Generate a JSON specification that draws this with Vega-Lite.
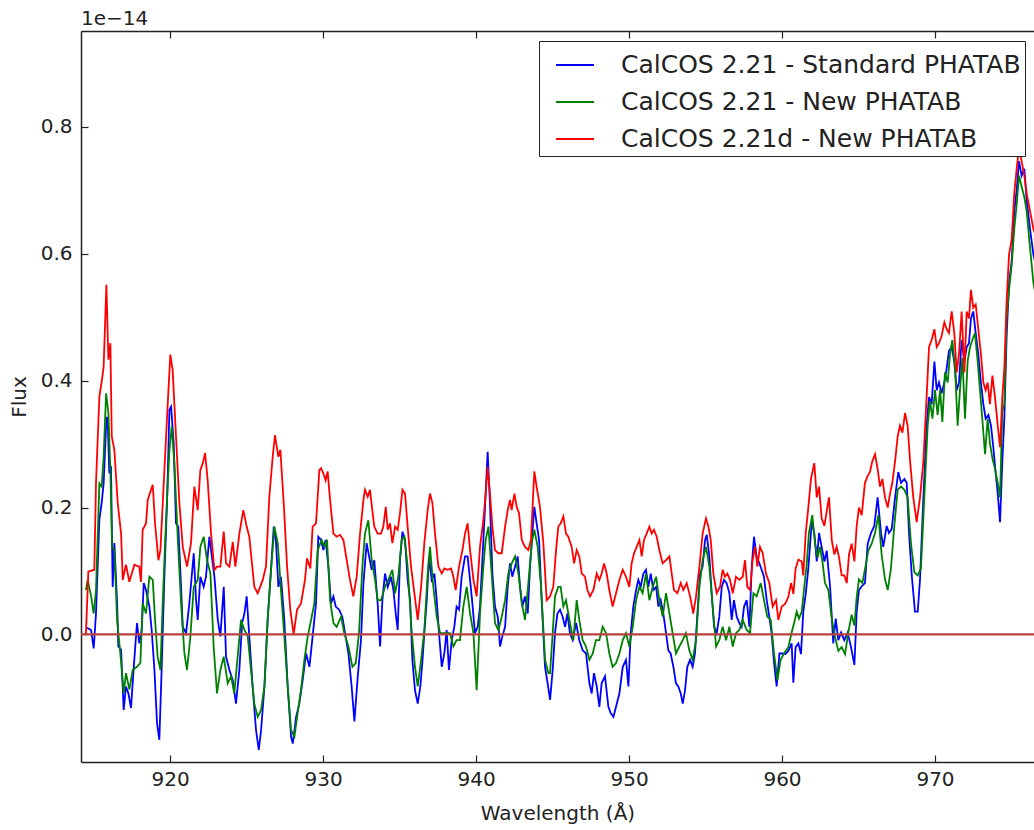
{
  "$schema": "https://vega.github.io/schema/vega-lite/v6.json",
  "width": 953,
  "height": 731,
  "autosize": {"type": "none"},
  "padding": {"left": 81, "top": 31, "right": 0, "bottom": 68},
  "background": "white",
  "config": {
    "font": "DejaVu Sans",
    "view": {"stroke": null},
    "axis": {"grid": false, "domainColor": "#222", "domainWidth": 1.5, "tickColor": "#222", "tickWidth": 1.2, "labelColor": "#222", "titleColor": "#222", "labelFont": "DejaVu Sans", "titleFont": "DejaVu Sans", "labelFontSize": 20, "titleFontSize": 20, "titleFontWeight": "normal"}
  },
  "title": {"text": "1e\u221214", "anchor": "start", "frame": "group", "fontSize": 20, "fontWeight": "normal", "font": "DejaVu Sans", "color": "#222", "baseline": "bottom", "offset": 2, "dy": 21},
  "datasets": {
    "blue": [
      {"w":914.50,"f":0.01},{"w":914.62,"f":0.010},{"w":914.84,"f":0.007},{"w":915.01,"f":-0.022},{"w":915.16,"f":0.033},{"w":915.38,"f":0.181},{"w":915.53,"f":0.207},{"w":915.66,"f":0.238},{"w":915.82,"f":0.328},{"w":915.88,"f":0.343},{"w":915.93,"f":0.333},{"w":916.03,"f":0.254},{"w":916.14,"f":0.265},{"w":916.25,"f":0.075},{"w":916.36,"f":0.144},{"w":916.54,"f":0.049},{"w":916.62,"f":-0.019},{"w":916.80,"f":-0.024},{"w":916.97,"f":-0.119},{"w":917.12,"f":-0.082},{"w":917.28,"f":-0.093},{"w":917.45,"f":-0.116},{"w":917.63,"f":-0.051},{"w":917.84,"f":0.018},{"w":917.99,"f":-0.014},{"w":918.15,"f":0.007},{"w":918.28,"f":0.081},{"w":918.43,"f":0.070},{"w":918.65,"f":0.044},{"w":918.80,"f":0.007},{"w":918.98,"f":-0.056},{"w":919.15,"f":-0.140},{"w":919.30,"f":-0.166},{"w":919.45,"f":-0.056},{"w":919.63,"f":0.091},{"w":919.80,"f":0.207},{"w":919.96,"f":0.354},{"w":920.07,"f":0.359},{"w":920.24,"f":0.301},{"w":920.39,"f":0.175},{"w":920.54,"f":0.170},{"w":920.72,"f":0.075},{"w":920.83,"f":0.012},{"w":921.05,"f":0.002},{"w":921.26,"f":0.049},{"w":921.55,"f":0.128},{"w":921.70,"f":0.054},{"w":921.81,"f":0.023},{"w":921.98,"f":0.091},{"w":922.20,"f":0.075},{"w":922.35,"f":0.091},{"w":922.57,"f":0.154},{"w":922.79,"f":0.112},{"w":922.90,"f":0.091},{"w":923.12,"f":0.023},{"w":923.29,"f":-0.003},{"w":923.51,"f":0.075},{"w":923.66,"f":-0.035},{"w":923.88,"f":-0.056},{"w":924.10,"f":-0.072},{"w":924.31,"f":-0.109},{"w":924.53,"f":-0.056},{"w":924.71,"f":0.018},{"w":924.86,"f":0.033},{"w":925.01,"f":0.060},{"w":925.18,"f":-0.003},{"w":925.40,"f":-0.082},{"w":925.62,"f":-0.151},{"w":925.80,"f":-0.182},{"w":925.95,"f":-0.151},{"w":926.17,"f":-0.082},{"w":926.38,"f":0.023},{"w":926.60,"f":0.102},{"w":926.78,"f":0.170},{"w":926.93,"f":0.144},{"w":927.08,"f":0.075},{"w":927.25,"f":0.091},{"w":927.47,"f":0.023},{"w":927.69,"f":-0.082},{"w":927.91,"f":-0.161},{"w":928.02,"f":-0.172},{"w":928.24,"f":-0.130},{"w":928.45,"f":-0.109},{"w":928.67,"f":-0.072},{"w":928.89,"f":-0.030},{"w":929.11,"f":-0.051},{"w":929.32,"f":-0.003},{"w":929.54,"f":0.049},{"w":929.69,"f":0.154},{"w":929.87,"f":0.149},{"w":930.02,"f":0.133},{"w":930.17,"f":0.149},{"w":930.35,"f":0.107},{"w":930.52,"f":0.049},{"w":930.68,"f":0.060},{"w":930.83,"f":0.044},{"w":931.05,"f":0.039},{"w":931.26,"f":0.028},{"w":931.44,"f":0.002},{"w":931.66,"f":-0.030},{"w":931.87,"f":-0.082},{"w":932.05,"f":-0.137},{"w":932.27,"f":-0.066},{"w":932.48,"f":-0.009},{"w":932.64,"f":0.081},{"w":932.85,"f":0.144},{"w":933.01,"f":0.123},{"w":933.18,"f":0.102},{"w":933.35,"f":0.117},{"w":933.57,"f":0.049},{"w":933.73,"f":-0.019},{"w":933.88,"f":0.054},{"w":934.05,"f":0.096},{"w":934.23,"f":0.075},{"w":934.44,"f":0.091},{"w":934.60,"f":0.070},{"w":934.75,"f":0.033},{"w":934.88,"f":0.007},{"w":935.03,"f":0.117},{"w":935.19,"f":0.162},{"w":935.36,"f":0.149},{"w":935.53,"f":0.086},{"w":935.69,"f":0.054},{"w":935.84,"f":-0.040},{"w":936.01,"f":-0.088},{"w":936.19,"f":-0.109},{"w":936.36,"f":-0.082},{"w":936.49,"f":-0.045},{"w":936.62,"f":0.002},{"w":936.78,"f":0.054},{"w":936.93,"f":0.123},{"w":937.10,"f":0.086},{"w":937.28,"f":0.096},{"w":937.43,"f":0.054},{"w":937.58,"f":0.002},{"w":937.76,"f":-0.051},{"w":937.93,"f":-0.030},{"w":938.08,"f":0.007},{"w":938.23,"f":-0.056},{"w":938.41,"f":-0.009},{"w":938.58,"f":0.012},{"w":938.73,"f":0.044},{"w":938.89,"f":0.039},{"w":939.06,"f":0.091},{"w":939.28,"f":0.123},{"w":939.45,"f":0.123},{"w":939.61,"f":0.086},{"w":939.76,"f":0.049},{"w":939.93,"f":0.002},{"w":940.11,"f":0.012},{"w":940.26,"f":0.044},{"w":940.48,"f":0.149},{"w":940.63,"f":0.222},{"w":940.76,"f":0.288},{"w":940.91,"f":0.207},{"w":941.07,"f":0.096},{"w":941.24,"f":0.044},{"w":941.42,"f":0.028},{"w":941.57,"f":-0.019},{"w":941.72,"f":-0.003},{"w":941.90,"f":0.012},{"w":942.07,"f":0.075},{"w":942.22,"f":0.112},{"w":942.37,"f":0.091},{"w":942.55,"f":0.107},{"w":942.72,"f":0.123},{"w":942.88,"f":0.075},{"w":943.03,"f":0.044},{"w":943.20,"f":0.060},{"w":943.38,"f":0.033},{"w":943.53,"f":0.107},{"w":943.68,"f":0.159},{"w":943.81,"f":0.201},{"w":943.96,"f":0.175},{"w":944.12,"f":0.149},{"w":944.29,"f":0.054},{"w":944.51,"f":-0.051},{"w":944.68,"f":-0.077},{"w":944.84,"f":-0.103},{"w":945.01,"f":-0.056},{"w":945.16,"f":0.002},{"w":945.32,"f":0.033},{"w":945.49,"f":0.039},{"w":945.66,"f":0.028},{"w":945.82,"f":0.012},{"w":945.97,"f":0.033},{"w":946.14,"f":0.002},{"w":946.32,"f":-0.009},{"w":946.54,"f":0.018},{"w":946.75,"f":-0.009},{"w":946.97,"f":-0.025},{"w":947.19,"f":-0.030},{"w":947.41,"f":-0.077},{"w":947.56,"f":-0.093},{"w":947.71,"f":-0.061},{"w":947.89,"f":-0.082},{"w":948.06,"f":-0.114},{"w":948.21,"f":-0.077},{"w":948.43,"f":-0.066},{"w":948.65,"f":-0.114},{"w":948.80,"f":-0.124},{"w":948.98,"f":-0.130},{"w":949.15,"f":-0.114},{"w":949.37,"f":-0.093},{"w":949.59,"f":-0.051},{"w":949.80,"f":-0.040},{"w":949.96,"f":-0.082},{"w":950.11,"f":0.002},{"w":950.28,"f":0.044},{"w":950.46,"f":0.070},{"w":950.61,"f":0.086},{"w":950.76,"f":0.075},{"w":950.94,"f":0.096},{"w":951.11,"f":0.102},{"w":951.26,"f":0.075},{"w":951.42,"f":0.096},{"w":951.59,"f":0.070},{"w":951.77,"f":0.075},{"w":951.92,"f":0.044},{"w":952.07,"f":0.054},{"w":952.24,"f":0.033},{"w":952.42,"f":0.002},{"w":952.57,"f":-0.025},{"w":952.72,"f":-0.030},{"w":952.90,"f":-0.051},{"w":953.07,"f":-0.077},{"w":953.22,"f":-0.082},{"w":953.38,"f":-0.093},{"w":953.51,"f":-0.109},{"w":953.66,"f":-0.088},{"w":953.81,"f":-0.051},{"w":953.99,"f":-0.040},{"w":954.16,"f":-0.051},{"w":954.31,"f":-0.030},{"w":954.47,"f":0.033},{"w":954.64,"f":0.096},{"w":954.81,"f":0.107},{"w":954.97,"f":0.149},{"w":955.08,"f":0.157},{"w":955.25,"f":0.123},{"w":955.40,"f":0.065},{"w":955.56,"f":0.012},{"w":955.73,"f":0.002},{"w":955.90,"f":0.028},{"w":956.06,"f":0.075},{"w":956.21,"f":0.086},{"w":956.38,"f":0.081},{"w":956.56,"f":0.065},{"w":956.71,"f":0.023},{"w":956.86,"f":0.054},{"w":957.04,"f":0.028},{"w":957.21,"f":0.018},{"w":957.36,"f":0.012},{"w":957.52,"f":0.044},{"w":957.69,"f":0.054},{"w":957.87,"f":0.012},{"w":958.02,"f":0.107},{"w":958.17,"f":0.154},{"w":958.34,"f":0.123},{"w":958.52,"f":0.112},{"w":958.67,"f":0.102},{"w":958.82,"f":0.091},{"w":959.00,"f":0.054},{"w":959.17,"f":0.028},{"w":959.32,"f":0.002},{"w":959.48,"f":-0.045},{"w":959.65,"f":-0.082},{"w":959.83,"f":-0.030},{"w":960.04,"f":-0.030},{"w":960.20,"f":-0.031},{"w":960.41,"f":-0.026},{"w":960.63,"f":-0.014},{"w":960.74,"f":-0.076},{"w":960.89,"f":-0.020},{"w":961.07,"f":-0.014},{"w":961.24,"f":-0.031},{"w":961.39,"f":0.036},{"w":961.55,"f":0.064},{"w":961.72,"f":0.104},{"w":961.94,"f":0.177},{"w":962.11,"f":0.160},{"w":962.27,"f":0.115},{"w":962.42,"f":0.160},{"w":962.59,"f":0.138},{"w":962.77,"f":0.115},{"w":962.92,"f":0.132},{"w":963.14,"f":0.076},{"w":963.35,"f":-0.014},{"w":963.51,"f":0.025},{"w":963.68,"f":-0.009},{"w":963.86,"f":0.003},{"w":964.07,"f":-0.009},{"w":964.29,"f":0.003},{"w":964.51,"f":-0.020},{"w":964.73,"f":-0.048},{"w":964.88,"f":0.036},{"w":965.03,"f":0.070},{"w":965.21,"f":0.076},{"w":965.42,"f":0.081},{"w":965.60,"f":0.143},{"w":965.82,"f":0.160},{"w":966.03,"f":0.171},{"w":966.25,"f":0.216},{"w":966.47,"f":0.160},{"w":966.62,"f":0.138},{"w":966.84,"f":0.171},{"w":966.99,"f":0.160},{"w":967.17,"f":0.166},{"w":967.39,"f":0.216},{"w":967.60,"f":0.256},{"w":967.78,"f":0.239},{"w":968.00,"f":0.245},{"w":968.15,"f":0.239},{"w":968.30,"f":0.160},{"w":968.48,"f":0.093},{"w":968.69,"f":0.036},{"w":968.87,"f":0.036},{"w":969.02,"f":0.087},{"w":969.24,"f":0.216},{"w":969.45,"f":0.329},{"w":969.61,"f":0.374},{"w":969.78,"f":0.363},{"w":969.96,"f":0.430},{"w":970.11,"f":0.385},{"w":970.26,"f":0.397},{"w":970.43,"f":0.380},{"w":970.61,"f":0.397},{"w":970.76,"f":0.419},{"w":970.91,"f":0.447},{"w":971.09,"f":0.453},{"w":971.26,"f":0.430},{"w":971.42,"f":0.385},{"w":971.57,"f":0.397},{"w":971.74,"f":0.464},{"w":971.92,"f":0.430},{"w":972.07,"f":0.453},{"w":972.22,"f":0.459},{"w":972.35,"f":0.498},{"w":972.50,"f":0.509},{"w":972.66,"f":0.475},{"w":972.83,"f":0.442},{"w":973.00,"f":0.397},{"w":973.16,"f":0.363},{"w":973.31,"f":0.340},{"w":973.49,"f":0.346},{"w":973.66,"f":0.329},{"w":973.81,"f":0.295},{"w":973.96,"f":0.256},{"w":974.10,"f":0.222},{"w":974.25,"f":0.177},{"w":974.40,"f":0.273},{"w":974.53,"f":0.340},{"w":974.68,"f":0.470},{"w":974.84,"f":0.554},{"w":975.01,"f":0.588},{"w":975.18,"f":0.667},{"w":975.34,"f":0.701},{"w":975.49,"f":0.746},{"w":975.66,"f":0.723},{"w":975.84,"f":0.734},{"w":975.99,"f":0.684},{"w":976.21,"f":0.639},{"w":976.43,"f":0.599},{"w":976.70,"f":0.570}
    ],
    "green": [
      {"w":914.50,"f":0.07},{"w":914.62,"f":0.086},{"w":914.84,"f":0.060},{"w":915.01,"f":0.033},{"w":915.16,"f":0.070},{"w":915.38,"f":0.238},{"w":915.53,"f":0.233},{"w":915.66,"f":0.280},{"w":915.82,"f":0.380},{"w":915.97,"f":0.349},{"w":916.10,"f":0.259},{"w":916.21,"f":0.138},{"w":916.36,"f":0.133},{"w":916.54,"f":0.023},{"w":916.75,"f":-0.030},{"w":916.97,"f":-0.093},{"w":917.12,"f":-0.061},{"w":917.34,"f":-0.087},{"w":917.56,"f":-0.056},{"w":917.84,"f":-0.051},{"w":918.06,"f":-0.045},{"w":918.21,"f":0.049},{"w":918.43,"f":0.033},{"w":918.65,"f":0.091},{"w":918.87,"f":0.086},{"w":919.02,"f":0.023},{"w":919.19,"f":-0.035},{"w":919.37,"f":-0.056},{"w":919.52,"f":0.049},{"w":919.74,"f":0.181},{"w":919.96,"f":0.291},{"w":920.11,"f":0.328},{"w":920.28,"f":0.270},{"w":920.50,"f":0.154},{"w":920.72,"f":0.049},{"w":920.94,"f":-0.030},{"w":921.11,"f":-0.056},{"w":921.33,"f":-0.003},{"w":921.55,"f":0.075},{"w":921.81,"f":0.086},{"w":921.98,"f":0.138},{"w":922.20,"f":0.154},{"w":922.42,"f":0.117},{"w":922.64,"f":0.096},{"w":922.85,"f":-0.019},{"w":923.07,"f":-0.093},{"w":923.29,"f":-0.056},{"w":923.51,"f":-0.035},{"w":923.77,"f":-0.077},{"w":923.99,"f":-0.066},{"w":924.20,"f":-0.093},{"w":924.42,"f":-0.035},{"w":924.64,"f":0.023},{"w":924.86,"f":0.007},{"w":925.08,"f":-0.003},{"w":925.29,"f":-0.056},{"w":925.51,"f":-0.109},{"w":925.73,"f":-0.130},{"w":925.95,"f":-0.119},{"w":926.17,"f":-0.082},{"w":926.38,"f":0.023},{"w":926.60,"f":0.102},{"w":926.82,"f":0.170},{"w":927.04,"f":0.144},{"w":927.25,"f":0.070},{"w":927.47,"f":-0.003},{"w":927.69,"f":-0.082},{"w":927.91,"f":-0.151},{"w":928.13,"f":-0.161},{"w":928.34,"f":-0.124},{"w":928.56,"f":-0.087},{"w":928.78,"f":-0.040},{"w":929.00,"f":-0.003},{"w":929.22,"f":0.023},{"w":929.43,"f":0.049},{"w":929.65,"f":0.133},{"w":929.91,"f":0.149},{"w":930.09,"f":0.138},{"w":930.26,"f":0.149},{"w":930.46,"f":0.054},{"w":930.68,"f":0.018},{"w":930.89,"f":0.012},{"w":931.18,"f":0.028},{"w":931.39,"f":0.002},{"w":931.66,"f":-0.019},{"w":931.92,"f":-0.051},{"w":932.14,"f":-0.045},{"w":932.35,"f":0.002},{"w":932.57,"f":0.107},{"w":932.74,"f":0.159},{"w":932.96,"f":0.180},{"w":933.18,"f":0.117},{"w":933.40,"f":0.086},{"w":933.57,"f":0.054},{"w":933.79,"f":0.054},{"w":934.05,"f":0.075},{"w":934.27,"f":0.086},{"w":934.53,"f":0.102},{"w":934.71,"f":0.065},{"w":934.92,"f":0.091},{"w":935.14,"f":0.149},{"w":935.32,"f":0.154},{"w":935.53,"f":0.107},{"w":935.80,"f":0.002},{"w":936.01,"f":-0.051},{"w":936.19,"f":-0.082},{"w":936.41,"f":-0.040},{"w":936.62,"f":0.007},{"w":936.84,"f":0.096},{"w":936.99,"f":0.138},{"w":937.21,"f":0.075},{"w":937.43,"f":0.028},{"w":937.65,"f":0.002},{"w":937.86,"f":0.002},{"w":938.08,"f":0.002},{"w":938.30,"f":0.002},{"w":938.52,"f":-0.019},{"w":938.73,"f":-0.009},{"w":938.95,"f":-0.009},{"w":939.17,"f":0.044},{"w":939.39,"f":0.075},{"w":939.61,"f":0.033},{"w":939.83,"f":0.002},{"w":940.04,"f":-0.088},{"w":940.26,"f":0.033},{"w":940.48,"f":0.107},{"w":940.63,"f":0.149},{"w":940.81,"f":0.170},{"w":941.02,"f":0.096},{"w":941.24,"f":0.018},{"w":941.46,"f":0.007},{"w":941.68,"f":0.028},{"w":941.90,"f":0.054},{"w":942.11,"f":0.096},{"w":942.33,"f":0.112},{"w":942.55,"f":0.123},{"w":942.77,"f":0.096},{"w":942.99,"f":0.049},{"w":943.20,"f":0.023},{"w":943.42,"f":0.081},{"w":943.64,"f":0.144},{"w":943.81,"f":0.165},{"w":944.03,"f":0.138},{"w":944.25,"f":0.075},{"w":944.51,"f":-0.040},{"w":944.73,"f":-0.061},{"w":944.84,"f":-0.061},{"w":945.01,"f":0.002},{"w":945.16,"f":0.060},{"w":945.38,"f":0.075},{"w":945.53,"f":0.075},{"w":945.71,"f":0.044},{"w":945.88,"f":0.054},{"w":946.03,"f":0.033},{"w":946.19,"f":0.012},{"w":946.36,"f":-0.009},{"w":946.58,"f":0.054},{"w":946.75,"f":0.023},{"w":946.97,"f":-0.009},{"w":947.19,"f":-0.019},{"w":947.41,"f":-0.040},{"w":947.63,"f":-0.030},{"w":947.84,"f":-0.009},{"w":948.06,"f":-0.009},{"w":948.28,"f":0.012},{"w":948.50,"f":0.002},{"w":948.71,"f":-0.030},{"w":948.93,"f":-0.051},{"w":949.15,"f":-0.045},{"w":949.37,"f":-0.030},{"w":949.59,"f":-0.009},{"w":949.80,"f":0.002},{"w":950.02,"f":-0.019},{"w":950.24,"f":0.012},{"w":950.46,"f":0.054},{"w":950.68,"f":0.075},{"w":950.89,"f":0.065},{"w":951.11,"f":0.096},{"w":951.33,"f":0.054},{"w":951.55,"f":0.075},{"w":951.77,"f":0.091},{"w":951.98,"f":0.054},{"w":952.20,"f":0.028},{"w":952.42,"f":0.065},{"w":952.64,"f":0.033},{"w":952.85,"f":0.002},{"w":953.07,"f":-0.030},{"w":953.29,"f":-0.019},{"w":953.51,"f":-0.009},{"w":953.72,"f":0.002},{"w":953.94,"f":-0.025},{"w":954.16,"f":-0.040},{"w":954.38,"f":-0.009},{"w":954.60,"f":0.075},{"w":954.81,"f":0.117},{"w":955.03,"f":0.138},{"w":955.25,"f":0.107},{"w":955.47,"f":0.044},{"w":955.69,"f":-0.019},{"w":955.90,"f":-0.009},{"w":956.12,"f":0.012},{"w":956.34,"f":-0.009},{"w":956.56,"f":0.012},{"w":956.78,"f":-0.019},{"w":956.99,"f":0.002},{"w":957.21,"f":0.007},{"w":957.43,"f":0.023},{"w":957.69,"f":0.007},{"w":957.91,"f":0.002},{"w":958.13,"f":0.065},{"w":958.34,"f":0.060},{"w":958.61,"f":0.081},{"w":958.82,"f":0.054},{"w":959.04,"f":0.028},{"w":959.26,"f":0.023},{"w":959.48,"f":-0.030},{"w":959.70,"f":-0.072},{"w":959.91,"f":-0.040},{"w":960.13,"f":-0.030},{"w":960.41,"f":-0.020},{"w":960.63,"f":0.003},{"w":960.81,"f":0.020},{"w":960.96,"f":0.036},{"w":961.11,"f":0.025},{"w":961.29,"f":0.036},{"w":961.46,"f":0.076},{"w":961.61,"f":0.109},{"w":961.76,"f":0.160},{"w":961.98,"f":0.188},{"w":962.16,"f":0.143},{"w":962.33,"f":0.121},{"w":962.48,"f":0.138},{"w":962.64,"f":0.115},{"w":962.81,"f":0.081},{"w":963.03,"f":0.070},{"w":963.25,"f":0.025},{"w":963.46,"f":-0.003},{"w":963.68,"f":-0.026},{"w":963.90,"f":-0.020},{"w":964.12,"f":-0.031},{"w":964.33,"f":0.003},{"w":964.55,"f":0.031},{"w":964.73,"f":0.014},{"w":964.88,"f":0.059},{"w":965.03,"f":0.087},{"w":965.25,"f":0.081},{"w":965.47,"f":0.109},{"w":965.64,"f":0.132},{"w":965.86,"f":0.143},{"w":966.08,"f":0.160},{"w":966.30,"f":0.188},{"w":966.51,"f":0.126},{"w":966.73,"f":0.087},{"w":966.91,"f":0.070},{"w":967.12,"f":0.104},{"w":967.34,"f":0.171},{"w":967.56,"f":0.228},{"w":967.78,"f":0.233},{"w":968.00,"f":0.228},{"w":968.21,"f":0.216},{"w":968.43,"f":0.143},{"w":968.65,"f":0.098},{"w":968.87,"f":0.093},{"w":969.08,"f":0.104},{"w":969.30,"f":0.216},{"w":969.52,"f":0.329},{"w":969.67,"f":0.368},{"w":969.83,"f":0.340},{"w":970.00,"f":0.385},{"w":970.17,"f":0.346},{"w":970.33,"f":0.385},{"w":970.48,"f":0.335},{"w":970.65,"f":0.413},{"w":970.83,"f":0.397},{"w":970.98,"f":0.442},{"w":971.13,"f":0.464},{"w":971.31,"f":0.419},{"w":971.48,"f":0.329},{"w":971.63,"f":0.385},{"w":971.79,"f":0.436},{"w":971.96,"f":0.340},{"w":972.13,"f":0.430},{"w":972.29,"f":0.453},{"w":972.44,"f":0.464},{"w":972.61,"f":0.475},{"w":972.79,"f":0.430},{"w":972.94,"f":0.385},{"w":973.09,"f":0.340},{"w":973.27,"f":0.284},{"w":973.44,"f":0.340},{"w":973.59,"f":0.301},{"w":973.75,"f":0.278},{"w":973.92,"f":0.261},{"w":974.10,"f":0.239},{"w":974.25,"f":0.216},{"w":974.40,"f":0.352},{"w":974.53,"f":0.363},{"w":974.68,"f":0.498},{"w":974.84,"f":0.543},{"w":975.01,"f":0.582},{"w":975.18,"f":0.639},{"w":975.34,"f":0.678},{"w":975.49,"f":0.723},{"w":975.66,"f":0.706},{"w":975.84,"f":0.689},{"w":975.99,"f":0.667},{"w":976.21,"f":0.610},{"w":976.43,"f":0.554},{"w":976.70,"f":0.520}
    ],
    "red": [
      {"w":914.50,"f":0.0},{"w":914.66,"f":0.099},{"w":915.05,"f":0.102},{"w":915.16,"f":0.238},{"w":915.38,"f":0.375},{"w":915.53,"f":0.398},{"w":915.66,"f":0.422},{"w":915.84,"f":0.551},{"w":915.97,"f":0.433},{"w":916.10,"f":0.459},{"w":916.19,"f":0.312},{"w":916.36,"f":0.291},{"w":916.58,"f":0.207},{"w":916.80,"f":0.159},{"w":916.91,"f":0.086},{"w":917.12,"f":0.110},{"w":917.34,"f":0.083},{"w":917.67,"f":0.110},{"w":917.99,"f":0.107},{"w":918.10,"f":0.083},{"w":918.21,"f":0.165},{"w":918.43,"f":0.175},{"w":918.54,"f":0.212},{"w":918.76,"f":0.228},{"w":918.87,"f":0.236},{"w":919.02,"f":0.175},{"w":919.24,"f":0.117},{"w":919.37,"f":0.133},{"w":919.63,"f":0.259},{"w":919.85,"f":0.364},{"w":920.02,"f":0.441},{"w":920.17,"f":0.417},{"w":920.39,"f":0.312},{"w":920.61,"f":0.207},{"w":920.83,"f":0.138},{"w":921.11,"f":0.107},{"w":921.37,"f":0.144},{"w":921.59,"f":0.233},{"w":921.81,"f":0.196},{"w":921.98,"f":0.259},{"w":922.14,"f":0.270},{"w":922.29,"f":0.286},{"w":922.46,"f":0.243},{"w":922.68,"f":0.159},{"w":922.90,"f":0.102},{"w":923.07,"f":0.107},{"w":923.29,"f":0.107},{"w":923.51,"f":0.162},{"w":923.66,"f":0.112},{"w":923.88,"f":0.107},{"w":924.10,"f":0.146},{"w":924.27,"f":0.107},{"w":924.53,"f":0.159},{"w":924.79,"f":0.196},{"w":925.01,"f":0.170},{"w":925.18,"f":0.154},{"w":925.51,"f":0.075},{"w":925.73,"f":0.065},{"w":926.06,"f":0.086},{"w":926.27,"f":0.107},{"w":926.49,"f":0.217},{"w":926.71,"f":0.280},{"w":926.86,"f":0.314},{"w":927.08,"f":0.280},{"w":927.21,"f":0.291},{"w":927.43,"f":0.207},{"w":927.65,"f":0.107},{"w":927.86,"f":0.039},{"w":928.08,"f":0.0},{"w":928.30,"f":0.039},{"w":928.56,"f":0.049},{"w":928.82,"f":0.086},{"w":928.95,"f":0.120},{"w":929.17,"f":0.104},{"w":929.32,"f":0.170},{"w":929.54,"f":0.175},{"w":929.76,"f":0.259},{"w":929.87,"f":0.262},{"w":930.02,"f":0.254},{"w":930.17,"f":0.243},{"w":930.30,"f":0.257},{"w":930.46,"f":0.212},{"w":930.68,"f":0.159},{"w":930.89,"f":0.154},{"w":931.11,"f":0.157},{"w":931.33,"f":0.149},{"w":931.55,"f":0.117},{"w":931.76,"f":0.086},{"w":931.98,"f":0.060},{"w":932.20,"f":0.091},{"w":932.42,"f":0.159},{"w":932.64,"f":0.212},{"w":932.74,"f":0.228},{"w":932.92,"f":0.217},{"w":933.07,"f":0.228},{"w":933.22,"f":0.196},{"w":933.35,"f":0.170},{"w":933.57,"f":0.159},{"w":933.79,"f":0.159},{"w":933.94,"f":0.170},{"w":934.10,"f":0.201},{"w":934.23,"f":0.165},{"w":934.38,"f":0.175},{"w":934.53,"f":0.144},{"w":934.71,"f":0.170},{"w":934.88,"f":0.165},{"w":935.03,"f":0.191},{"w":935.19,"f":0.228},{"w":935.36,"f":0.222},{"w":935.53,"f":0.170},{"w":935.75,"f":0.107},{"w":935.97,"f":0.065},{"w":936.19,"f":0.023},{"w":936.41,"f":0.075},{"w":936.62,"f":0.144},{"w":936.84,"f":0.196},{"w":936.99,"f":0.222},{"w":937.15,"f":0.207},{"w":937.32,"f":0.159},{"w":937.54,"f":0.107},{"w":937.76,"f":0.096},{"w":937.93,"f":0.104},{"w":938.15,"f":0.102},{"w":938.37,"f":0.104},{"w":938.52,"f":0.091},{"w":938.67,"f":0.070},{"w":938.89,"f":0.107},{"w":939.11,"f":0.133},{"w":939.28,"f":0.159},{"w":939.45,"f":0.175},{"w":939.61,"f":0.133},{"w":939.83,"f":0.086},{"w":940.04,"f":0.060},{"w":940.26,"f":0.138},{"w":940.48,"f":0.180},{"w":940.63,"f":0.222},{"w":940.76,"f":0.264},{"w":940.91,"f":0.222},{"w":941.07,"f":0.170},{"w":941.24,"f":0.133},{"w":941.46,"f":0.128},{"w":941.68,"f":0.128},{"w":941.90,"f":0.170},{"w":942.07,"f":0.196},{"w":942.22,"f":0.212},{"w":942.33,"f":0.196},{"w":942.51,"f":0.222},{"w":942.66,"f":0.201},{"w":942.81,"f":0.191},{"w":942.99,"f":0.149},{"w":943.20,"f":0.138},{"w":943.42,"f":0.133},{"w":943.59,"f":0.149},{"w":943.81,"f":0.257},{"w":943.96,"f":0.233},{"w":944.18,"f":0.201},{"w":944.40,"f":0.144},{"w":944.62,"f":0.054},{"w":944.84,"f":0.060},{"w":945.05,"f":0.075},{"w":945.23,"f":0.133},{"w":945.38,"f":0.170},{"w":945.53,"f":0.175},{"w":945.71,"f":0.186},{"w":945.88,"f":0.159},{"w":946.03,"f":0.154},{"w":946.25,"f":0.138},{"w":946.41,"f":0.112},{"w":946.58,"f":0.133},{"w":946.75,"f":0.123},{"w":946.91,"f":0.096},{"w":947.12,"f":0.091},{"w":947.28,"f":0.070},{"w":947.45,"f":0.060},{"w":947.67,"f":0.070},{"w":947.89,"f":0.096},{"w":948.06,"f":0.086},{"w":948.21,"f":0.096},{"w":948.37,"f":0.112},{"w":948.54,"f":0.096},{"w":948.71,"f":0.070},{"w":948.93,"f":0.044},{"w":949.15,"f":0.065},{"w":949.37,"f":0.086},{"w":949.59,"f":0.102},{"w":949.80,"f":0.091},{"w":950.02,"f":0.075},{"w":950.17,"f":0.112},{"w":950.33,"f":0.128},{"w":950.50,"f":0.138},{"w":950.68,"f":0.149},{"w":950.83,"f":0.123},{"w":950.98,"f":0.149},{"w":951.15,"f":0.159},{"w":951.33,"f":0.170},{"w":951.48,"f":0.159},{"w":951.63,"f":0.165},{"w":951.81,"f":0.154},{"w":951.98,"f":0.133},{"w":952.20,"f":0.112},{"w":952.42,"f":0.117},{"w":952.64,"f":0.123},{"w":952.79,"f":0.096},{"w":952.94,"f":0.070},{"w":953.16,"f":0.065},{"w":953.38,"f":0.081},{"w":953.55,"f":0.070},{"w":953.77,"f":0.081},{"w":953.99,"f":0.060},{"w":954.20,"f":0.033},{"w":954.38,"f":0.060},{"w":954.60,"f":0.107},{"w":954.81,"f":0.159},{"w":955.03,"f":0.183},{"w":955.19,"f":0.170},{"w":955.34,"f":0.149},{"w":955.51,"f":0.096},{"w":955.73,"f":0.065},{"w":955.95,"f":0.075},{"w":956.12,"f":0.102},{"w":956.27,"f":0.091},{"w":956.43,"f":0.096},{"w":956.60,"f":0.086},{"w":956.78,"f":0.065},{"w":956.99,"f":0.091},{"w":957.21,"f":0.086},{"w":957.43,"f":0.091},{"w":957.58,"f":0.117},{"w":957.73,"f":0.075},{"w":957.91,"f":0.070},{"w":958.08,"f":0.117},{"w":958.24,"f":0.138},{"w":958.39,"f":0.107},{"w":958.56,"f":0.138},{"w":958.74,"f":0.128},{"w":958.95,"f":0.096},{"w":959.17,"f":0.081},{"w":959.39,"f":0.044},{"w":959.61,"f":0.054},{"w":959.76,"f":0.023},{"w":959.98,"f":0.044},{"w":960.20,"f":0.048},{"w":960.41,"f":0.059},{"w":960.59,"f":0.081},{"w":960.74,"f":0.064},{"w":960.89,"f":0.104},{"w":961.07,"f":0.118},{"w":961.29,"f":0.115},{"w":961.39,"f":0.093},{"w":961.55,"f":0.160},{"w":961.72,"f":0.200},{"w":961.89,"f":0.245},{"w":962.11,"f":0.270},{"w":962.27,"f":0.216},{"w":962.42,"f":0.233},{"w":962.59,"f":0.183},{"w":962.77,"f":0.171},{"w":962.92,"f":0.194},{"w":963.07,"f":0.216},{"w":963.25,"f":0.149},{"w":963.42,"f":0.126},{"w":963.57,"f":0.138},{"w":963.73,"f":0.121},{"w":963.90,"f":0.093},{"w":964.07,"f":0.093},{"w":964.23,"f":0.081},{"w":964.38,"f":0.126},{"w":964.55,"f":0.143},{"w":964.73,"f":0.115},{"w":964.88,"f":0.171},{"w":965.03,"f":0.200},{"w":965.21,"f":0.188},{"w":965.42,"f":0.239},{"w":965.60,"f":0.250},{"w":965.75,"f":0.256},{"w":965.90,"f":0.273},{"w":966.08,"f":0.284},{"w":966.25,"f":0.261},{"w":966.40,"f":0.233},{"w":966.56,"f":0.245},{"w":966.73,"f":0.216},{"w":966.91,"f":0.200},{"w":967.06,"f":0.222},{"w":967.21,"f":0.239},{"w":967.39,"f":0.273},{"w":967.56,"f":0.312},{"w":967.71,"f":0.329},{"w":967.87,"f":0.318},{"w":968.04,"f":0.349},{"w":968.21,"f":0.329},{"w":968.37,"f":0.273},{"w":968.58,"f":0.216},{"w":968.80,"f":0.177},{"w":969.02,"f":0.216},{"w":969.24,"f":0.273},{"w":969.45,"f":0.374},{"w":969.61,"f":0.453},{"w":969.78,"f":0.464},{"w":969.96,"f":0.481},{"w":970.11,"f":0.453},{"w":970.26,"f":0.459},{"w":970.43,"f":0.470},{"w":970.61,"f":0.492},{"w":970.76,"f":0.481},{"w":970.91,"f":0.475},{"w":971.09,"f":0.509},{"w":971.26,"f":0.475},{"w":971.42,"f":0.413},{"w":971.57,"f":0.442},{"w":971.74,"f":0.509},{"w":971.92,"f":0.413},{"w":972.07,"f":0.509},{"w":972.22,"f":0.498},{"w":972.35,"f":0.543},{"w":972.50,"f":0.515},{"w":972.66,"f":0.520},{"w":972.83,"f":0.481},{"w":973.00,"f":0.442},{"w":973.16,"f":0.397},{"w":973.31,"f":0.385},{"w":973.44,"f":0.397},{"w":973.59,"f":0.363},{"w":973.75,"f":0.408},{"w":973.92,"f":0.374},{"w":974.10,"f":0.329},{"w":974.25,"f":0.295},{"w":974.40,"f":0.374},{"w":974.53,"f":0.419},{"w":974.68,"f":0.526},{"w":974.84,"f":0.599},{"w":975.01,"f":0.622},{"w":975.18,"f":0.695},{"w":975.34,"f":0.734},{"w":975.49,"f":0.768},{"w":975.66,"f":0.746},{"w":975.84,"f":0.723},{"w":975.99,"f":0.695},{"w":976.21,"f":0.667},{"w":976.43,"f":0.639},{"w":976.70,"f":0.620}
    ]
  },
  "resolve": {"axis": {"x": "independent"}},
  "layer": [
    {
      "data": {"name": "blue"},
      "mark": {"type": "line", "strokeWidth": 1.8, "clip": true},
      "encoding": {
        "x": {"field": "w", "type": "quantitative", "scale": {"domain": [914.18, 976.47], "nice": false, "zero": false},
              "axis": {"orient": "bottom", "values": [920, 930, 940, 950, 960, 970], "format": "d", "tickSize": -7, "labelPadding": 14, "title": "Wavelength (\u00c5)", "titlePadding": 14}},
        "y": {"field": "f", "type": "quantitative", "scale": {"domain": [-0.201, 0.951], "nice": false, "zero": false},
              "axis": {"values": [0, 0.2, 0.4, 0.6, 0.8], "format": ".1f", "tickSize": -7, "labelPadding": 16, "title": "Flux", "titlePadding": 11}},
        "color": {"datum": "CalCOS 2.21 - Standard PHATAB", "type": "nominal",
                  "scale": {"domain": ["CalCOS 2.21 - Standard PHATAB", "CalCOS 2.21 - New PHATAB", "CalCOS 2.21d - New PHATAB"], "range": ["#0000ff", "#008000", "#ff0000"]},
                  "legend": {"orient": "none", "legendX": 458, "legendY": 10, "title": null, "symbolType": "stroke", "symbolSize": 1444, "symbolStrokeWidth": 1.8, "labelFontSize": 25, "labelFont": "DejaVu Sans", "labelColor": "#222", "labelLimit": 0, "padding": 4, "symbolOffset": 12, "labelOffset": 26, "rowPadding": 4, "strokeColor": "#222", "fillColor": "white", "cornerRadius": 0}}
      }
    },
    {
      "data": {"name": "green"},
      "mark": {"type": "line", "strokeWidth": 1.8, "clip": true},
      "encoding": {
        "x": {"field": "w", "type": "quantitative", "axis": null},
        "y": {"field": "f", "type": "quantitative"},
        "color": {"datum": "CalCOS 2.21 - New PHATAB", "type": "nominal"}
      }
    },
    {
      "data": {"name": "red"},
      "mark": {"type": "line", "strokeWidth": 1.8, "clip": true},
      "encoding": {
        "x": {"field": "w", "type": "quantitative",
              "axis": {"orient": "top", "values": [920, 930, 940, 950, 960, 970], "labels": false, "tickSize": -7, "title": null}},
        "y": {"field": "f", "type": "quantitative"},
        "color": {"datum": "CalCOS 2.21d - New PHATAB", "type": "nominal"}
      }
    },
    {
      "data": {"values": [{}]},
      "mark": {"type": "rule", "color": "#b84040", "strokeWidth": 2.2},
      "encoding": {"y": {"datum": 0}}
    }
  ]
}
